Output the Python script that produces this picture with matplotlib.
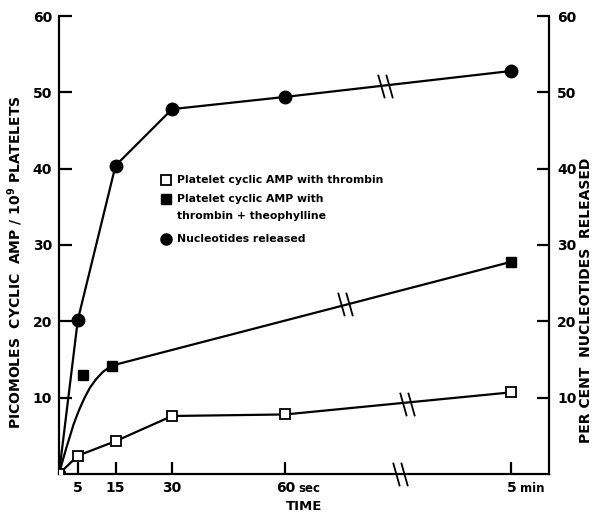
import matplotlib
matplotlib.use('Agg')
import matplotlib.pyplot as plt
from matplotlib.path import Path
from matplotlib.transforms import offset_copy

# time axis: seconds up to 60, then a break; "5 min" is placed at position 120
tick_pos = [5, 15, 30, 60, 120]
tick_labels = ['5', '15', '30', '', '']
pos_60 = 60
pos_5min = 120

# nucleotides released (circles)
nuc_x = [0, 5, 15, 30, 60, 120]
nuc_y = [0, 20.2, 40.4, 47.8, 49.4, 52.8]

# cyclic AMP with thrombin (open squares)
open_x = [0, 5, 15, 30, 60, 120]
open_y = [0, 2.4, 4.3, 7.6, 7.8, 10.7]

# cyclic AMP with thrombin + theophylline (filled squares)
fill_x = [6.3, 14, 120]
fill_y = [13.0, 14.2, 27.8]
# hand-drawn curve through the early filled-square points
curve_x = [0, 1, 2, 3, 3.8, 4.7, 5.6, 6.8, 8.2, 9.8, 11.7, 14]
curve_y = [0, 1.8, 3.5, 5.1, 6.4, 7.6, 8.7, 10.0, 11.3, 12.4, 13.4, 14.2]

# where the "//" break marks cut the lines
breaks_x = [86.5, 76, 92.2]
breaks_y = [50.8, 22.3, 9.2]
axis_break_x = 90.5

left_ticks = [10, 20, 30, 40, 50, 60]
left_label = 'PICOMOLES  CYCLIC  AMP / 10$^{\\mathbf{9}}$ PLATELETS'
right_label = 'PER CENT  NUCLEOTIDES  RELEASED'

plt.rcParams['font.family'] = 'DejaVu Sans'
plt.rcParams['font.weight'] = 'bold'

fig = plt.figure(figsize=(5.99, 5.15), dpi=100)
ax = fig.add_axes([59 / 599, 1 - 474 / 515, 490 / 599, 458 / 515])

lw = 1.6
# break marker: two parallel slanted strokes
brk = Path([(-0.5, 0.8), (-0.05, -0.8), (0.05, 0.8), (0.5, -0.8)],
           [Path.MOVETO, Path.LINETO, Path.MOVETO, Path.LINETO])

ax.plot(nuc_x, nuc_y, color='black', lw=lw, marker='o', ms=9, zorder=3)
ax.plot(open_x, open_y, color='black', lw=lw, marker='s', ms=6.5,
        mfc='white', mec='black', mew=1.3, zorder=3)
ax.plot(curve_x, curve_y, color='black', lw=lw, zorder=2)
ax.plot(fill_x[1:], fill_y[1:], color='black', lw=lw, zorder=2)
ax.plot(fill_x, fill_y, ls='none', marker='s', ms=7, color='black', zorder=3)
ax.plot(breaks_x, breaks_y, ls='none', marker=brk, ms=17, mew=1.3,
        color='black', zorder=4)
ax.plot([axis_break_x], [0], marker=brk, ms=17, mew=1.3, color='black',
        clip_on=False, zorder=5)

ax.set_xlim(0, 130)
ax.set_ylim(0, 60)
ax.spines['top'].set_visible(False)
for s in ['left', 'right', 'bottom']:
    ax.spines[s].set_linewidth(1.6)

ax.set_xticks(tick_pos)
ax.set_xticklabels(tick_labels)
ax.set_yticks(left_ticks)
ax.tick_params(axis='both', direction='in', length=9, width=1.6,
               labelsize=10)
ax.tick_params(axis='x', pad=5)
ax.tick_params(axis='y', pad=5)

axr = ax.twinx()
axr.set_ylim(0, 60)
axr.set_yticks(left_ticks)
axr.tick_params(axis='y', direction='in', length=9, width=1.6,
                labelsize=10, pad=6)
for s in ['top', 'left', 'right', 'bottom']:
    axr.spines[s].set_visible(False)

# "60 sec" and "5 min" tick labels, number centred on its tick
lab_tr = offset_copy(ax.get_xaxis_transform(), fig=fig, y=-5, units='points')
unit_tr = offset_copy(lab_tr, fig=fig, y=-1, units='points')
ax.text(pos_60 - 2.4, 0, '60', fontsize=10, ha='left', va='top',
        transform=lab_tr)
ax.text(pos_60 + 3.6, 0, 'sec', fontsize=8.5, ha='left', va='top',
        transform=unit_tr)
ax.text(pos_5min - 1.2, 0, '5', fontsize=10, ha='left', va='top',
        transform=lab_tr)
ax.text(pos_5min + 2.2, 0, 'min', fontsize=8.5, ha='left', va='top',
        transform=unit_tr)

ax.set_xlabel('TIME', fontsize=9.5, fontweight='bold', labelpad=4)
fig.text(15 / 599, 1 - 262 / 515, left_label, rotation=90, fontsize=10,
         ha='center', va='center')
fig.text(586 / 599, 1 - 300 / 515, right_label, rotation=90, fontsize=10,
         ha='center', va='center')

# legend drawn as text next to markers
leg_x = 28.5
ax.plot([leg_x], [38.5], marker='s', ms=6.5, mfc='white', mec='black',
        mew=1.3, color='black')
ax.plot([leg_x], [36.0], marker='s', ms=6.5, color='black')
ax.plot([leg_x], [30.8], marker='o', ms=8, color='black')
tx = 31.2
ax.text(tx, 38.5, 'Platelet cyclic AMP with thrombin', fontsize=7.8,
        va='center')
ax.text(tx, 36.0, 'Platelet cyclic AMP with', fontsize=7.8, va='center')
ax.text(tx, 33.8, 'thrombin + theophylline', fontsize=7.8, va='center')
ax.text(tx, 30.8, 'Nucleotides released', fontsize=7.8, va='center')

fig.savefig('out.png', dpi=100)
